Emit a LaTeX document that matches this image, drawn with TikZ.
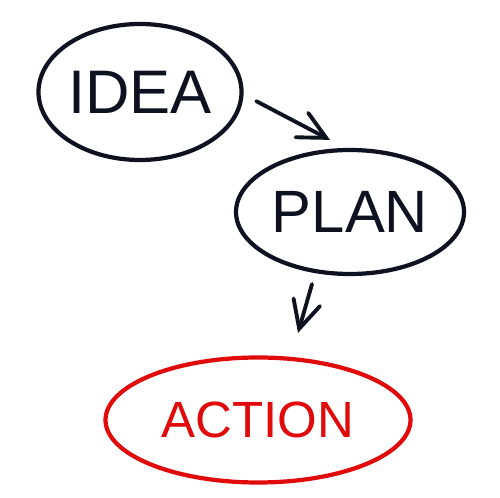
\documentclass[tikz,border=0pt]{standalone}
\usepackage{fontspec}
\setmainfont{Liberation Sans}
\usetikzlibrary{shapes.geometric,arrows.meta}
\definecolor{ink}{HTML}{0E1120}
\definecolor{redink}{HTML}{E00A0A}
\begin{document}
\begin{tikzpicture}[
    bubble/.style={draw=ink, ellipse, line width=2.4pt, text=ink, inner sep=0pt},
    redbubble/.style={bubble, draw=redink, text=redink},
    arr/.style={draw=ink, line width=2.2pt, line cap=round, -{Straight Barb[length=0.55cm, width=0.55cm, line cap=round]}}
    ]
    \useasboundingbox (0,0) rectangle (10,9.94);

    \node[bubble, minimum width=3.8cm, minimum height=2.72cm, font=\fontsize{35}{40}\selectfont] (idea) at (2.8,8.1) {IDEA};
    \node[bubble, minimum width=4.56cm, minimum height=2.48cm, font=\fontsize{34}{40}\selectfont] (plan) at (7.0,5.7) {PLAN};
    \node[redbubble, minimum width=6.1cm, minimum height=2.5cm, font=\fontsize{29}{34}\selectfont] (action) at (5.16,1.54) {ACTION};

    \draw[arr] ([shift={(0.32,0.17)}]idea.-10) -- ([shift={(-0.4,0.16)}]plan.north);
    \draw[arr] ([shift={(-0.76,-0.16)}]plan.south) -- ([shift={(0.8,0.45)}]action.north);

  \end{tikzpicture}
\end{document}
